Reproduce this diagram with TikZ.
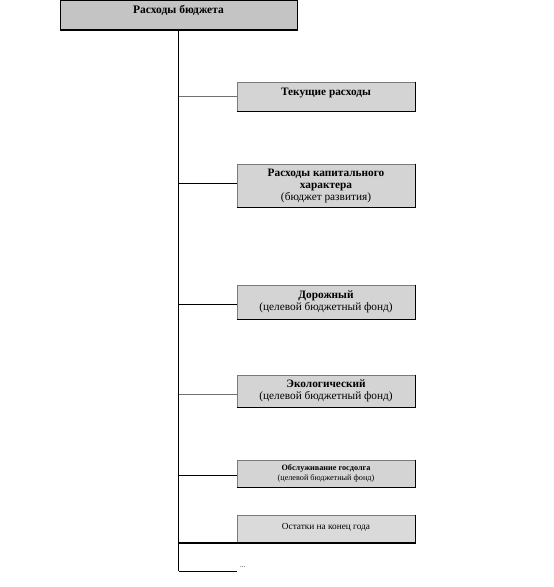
\documentclass[tikz,border=0pt]{standalone}
\usepackage{fontspec}
\setmainfont{Liberation Serif}
\begin{document}
\begin{tikzpicture}[x=1pt,y=-1pt,
  topbox/.style={draw=black,line width=1pt,fill=topgray,minimum width=237pt,minimum height=29pt,inner sep=0pt,align=center,font=\fontsize{11.5}{12}\selectfont\bfseries},
  subbox/.style={draw=edgegray,line width=0.8pt,fill=boxgray,minimum width=178pt,inner sep=0pt,align=center,font=\fontsize{11.3}{12}\selectfont},
  shadow/.style={draw=black,line width=1.6pt},
  trunk/.style={draw=black,line width=1.6pt},
  conn/.style={draw=black,line width=0.9pt},
  gconn/.style={draw=conngray,line width=1pt}]
\definecolor{topgray}{HTML}{C4C4C4}
\definecolor{boxgray}{HTML}{D4D4D4}
\definecolor{lightbox}{HTML}{DADADA}
\definecolor{edgegray}{HTML}{7A7A7A}
\definecolor{conngray}{HTML}{707070}
\useasboundingbox (0,0) rectangle (554,587);
% top box
\node[topbox,text depth=10pt] (top) at (178.5,14.5) {Расходы бюджета};
\draw[line width=2pt] (top.south west) -- (top.south east);
% sub boxes
\node[subbox,minimum height=29pt,text depth=10pt,font=\fontsize{11.3}{12}\selectfont\bfseries] (b1) at (326,96.5) {Текущие расходы};
\node[subbox,minimum height=43pt] (b2) at (326,185.5) {\textbf{Расходы капитального}\\\textbf{характера}\\(бюджет развития)};
\node[subbox,minimum height=34pt,text depth=2pt] (b3) at (326,302) {\textbf{Дорожный}\\(целевой бюджетный фонд)};
\node[subbox,minimum height=32pt,text depth=2pt] (b4) at (326,391) {\textbf{Экологический}\\(целевой бюджетный фонд)};
\node[subbox,minimum height=27pt,text depth=2pt,font=\fontsize{8.2}{10}\selectfont] (b5) at (326,473.5) {\textbf{Обслуживание госдолга}\\(целевой бюджетный фонд)};
\node[subbox,minimum height=27pt,text depth=6pt,fill=lightbox,font=\fontsize{9.3}{10}\selectfont] (b6) at (326,529) {Остатки на конец года};
\foreach \b in {b1,b2,b3,b4,b5,b6}{
  \draw[shadow] (\b.north east) -- (\b.south east) -- (\b.south west);
}
% trunk
\coordinate (vb) at (178.5,571);
\coordinate (e) at (237,571);
\draw[trunk] (top.south) -- (vb);
\draw[gconn] (top.south |- b1.west) -- (b1.west);
\draw[conn] (top.south |- 0,183) -- (b2.west |- 0,183);
\draw[conn] (top.south |- 0,304) -- (b3.west |- 0,304);
\draw[gconn] (top.south |- 0,394) -- (b4.west |- 0,394);
\draw[conn] (top.south |- 0,475) -- (b5.west |- 0,475);
\draw[shadow] (top.south |- b6.south west) -- (b6.south west);
\draw[conn] (vb) -- (e);
\node[font=\fontsize{7}{8}\selectfont,anchor=west,inner sep=1pt] (dots) at (239,567) {...};
\end{tikzpicture}
\end{document}
